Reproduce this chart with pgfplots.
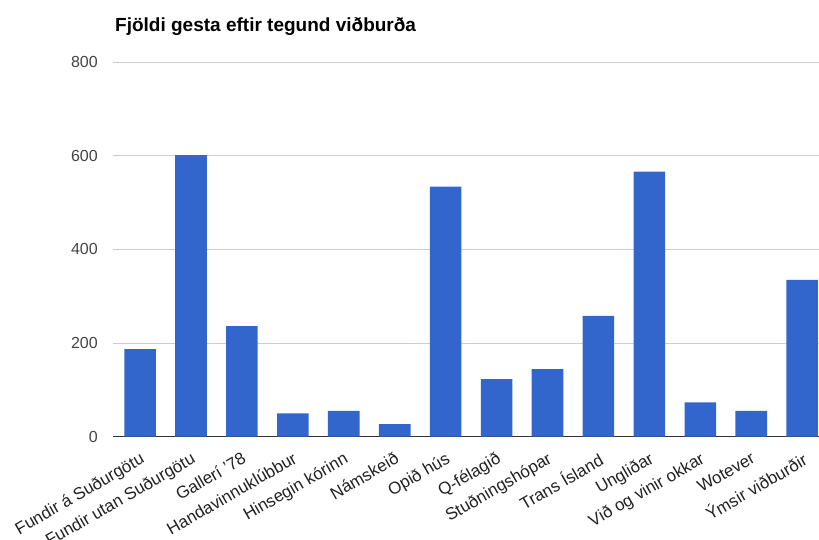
\documentclass[border=0pt]{standalone}
\usepackage{pgfplots}
\pgfplotsset{compat=1.18}
\usepackage{fontspec}
\setmainfont{Liberation Sans}
\definecolor{barblue}{HTML}{3366CC}
\definecolor{gridgrey}{HTML}{CCCCCC}
\definecolor{ticktext}{HTML}{444444}
\definecolor{labeltext}{HTML}{222222}
\definecolor{axisline}{HTML}{333333}
\begin{document}
\begin{tikzpicture}
\begin{axis}[
    name=ax,
    scale only axis,
    width=705.7bp, height=374.7bp,
    xmin=-0.525, xmax=13.33,
    ymin=0, ymax=800,
    ytick={0,200,400,600,800},
    xtick=data,
    xticklabels={Fundir á Suðurgötu, Fundir utan Suðurgötu, Gallerí '78, Handavinnuklúbbur, Hinsegin kórinn, Námskeið, Opið hús, Q-félagið, Stuðningshópar, Trans Ísland, Ungliðar, Við og vinir okkar, Wotever, Ýmsir viðburðir},
    axis x line*=bottom,
    axis y line*=left,
    x axis line style={axisline, line width=1.3bp, -},
    y axis line style={draw=none},
    ymajorgrids,
    grid style={gridgrey, line width=0.8bp},
    major tick length=0pt,
    /pgf/number format/assume math mode=true,
    yticklabel style={ticktext, font=\fontsize{16bp}{19bp}\selectfont, xshift=-12bp},
    xticklabel style={labeltext, font=\fontsize{17bp}{20bp}\selectfont, rotate=30, anchor=north east, inner sep=2bp, xshift=-6bp, yshift=-10bp},
    ]
\addplot[ybar, bar width=0.62, fill=barblue, draw=none] coordinates {
    (0,187) (1,601) (2,236) (3,50) (4,55) (5,27) (6,534)
    (7,123) (8,144) (9,258) (10,566) (11,73) (12,55) (13,335)
};
\end{axis}
\pgfresetboundingbox
\path ([xshift=-113.3bp,yshift=-103.3bp]ax.south west) rectangle ([yshift=62bp]ax.north east);
\node[anchor=base west, font=\bfseries\fontsize{19bp}{22bp}\selectfont, inner sep=0pt] at ([xshift=1.7bp,yshift=30bp]ax.north west) {Fjöldi gesta eftir tegund viðburða};
\end{tikzpicture}
\end{document}
